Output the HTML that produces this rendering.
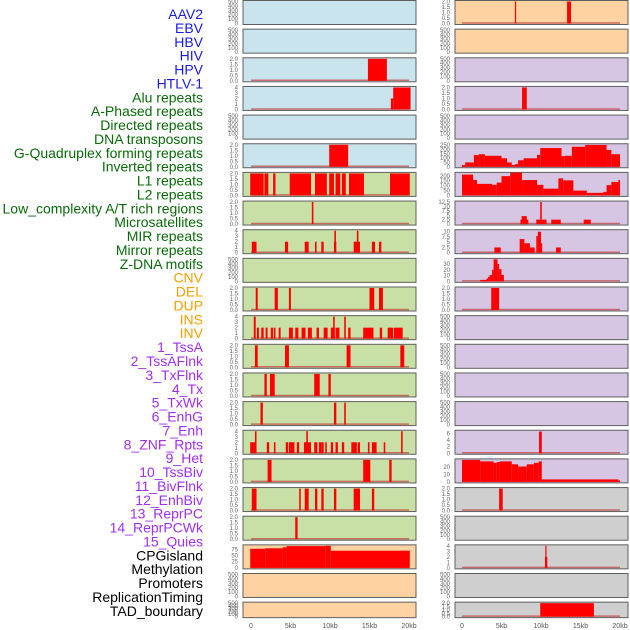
<!DOCTYPE html>
<html><head><meta charset="utf-8"><style>
html,body{margin:0;padding:0;background:#fff;}
svg{display:block;font-family:"Liberation Sans",sans-serif;}
</style></head><body>
<svg id="chart" width="630" height="630" viewBox="0 0 630 630"></svg>
<script>
// ---------- data (kb start, kb end, value) ----------
const trackLabels = ["AAV2","EBV","HBV","HIV","HPV","HTLV-1","Alu repeats","A-Phased repeats","Directed repeats","DNA transposons","G-Quadruplex forming repeats","Inverted repeats","L1 repeats","L2 repeats","Low_complexity A/T rich regions","Microsatellites","MIR repeats","Mirror repeats","Z-DNA motifs","CNV","DEL","DUP","INS","INV","1_TssA","2_TssAFlnk","3_TxFlnk","4_Tx","5_TxWk","6_EnhG","7_Enh","8_ZNF_Rpts","9_Het","10_TssBiv","11_BivFlnk","12_EnhBiv","13_ReprPC","14_ReprPCWk","15_Quies","CPGisland","Methylation","Promoters","ReplicationTiming","TAD_boundary"];
const xTickValues = [0,5,10,15,20];
const xTickLabels = ["0","5kb","10kb","15kb","20kb"];
const ticksEmpty = [0,100,200,300,400,500];
const ticks2 = [0,0.5,1,1.5,2];
const ticks4 = [0,1,2,3,4];

const L2 = [[14.8,17.2,2]];
const L3 = [[17.7,18,2],[18,20.2,4]];
const L5 = [[9.9,12.3,2]];
const L6 = [[-0.1,1.6,2],[1.7,2.2,2],[2.8,3.1,2],[4.9,7.6,2],[8.1,9.6,2],[9.9,10.5,2],[10.7,11.3,2],[11.5,12,2],[12.4,14.3,2],[17.6,20.1,2]];
const L7 = [[7.7,7.9,2]];
const L8 = [[0.1,0.7,2],[4.3,4.7,2],[6.8,7.3,2],[8.1,8.3,2],[8.9,9.2,2],[10.5,10.8,2],[10.55,10.75,4],[13,13.8,2],[13.4,13.6,4],[15.3,15.7,2],[16.2,16.5,2]];
const L10 = [[0.6,0.85,2],[3,3.4,2],[4.8,5.05,2],[15,15.6,2],[16.2,16.7,2]];
const L11 = [[0.35,0.6,4],[0.75,1,2],[1.3,1.6,2],[1.85,2.1,2],[2.5,2.8,2],[2.9,3.1,2],[3.5,3.75,2],[4.8,5.3,2],[5.6,6,2],[6.4,6.9,2],[7.2,7.7,2],[8.3,8.6,2],[9.2,9.7,2],[10.1,10.6,2],[10.4,10.6,4],[10.7,11.2,2],[11.8,12,4],[12.3,12.6,2],[14.2,15.5,2],[16.3,16.6,2],[17.3,17.7,2],[17.6,18,2],[18.1,19.2,2]];
const L12 = [[0.5,0.85,2],[4.3,4.8,2],[12.1,12.6,2],[18.9,19.4,2]];
const L13 = [[1.7,2,2],[2.4,3,2],[8,8.7,2],[9.8,10.1,2]];
const L14 = [[1.2,1.5,2],[10.5,10.8,2],[11.8,12,2]];
const L15 = [[-0.1,0.6,2],[0.5,0.7,4],[2,2.3,2],[2.9,3.1,2],[4.4,4.7,2],[4.8,5.5,2],[5.8,6.1,2],[6.7,7.6,2],[7,7.2,4],[8,8.4,2],[8.6,8.9,2],[8.9,9.2,2],[9.4,9.6,2],[10.1,10.4,2],[10.7,11,2],[11.5,11.8,2],[12.7,13.4,2],[13.5,13.8,2],[14.8,15,2],[15.3,15.9,2],[16.8,17,2],[19,19.2,4]];
const L16 = [[2.1,2.6,2],[14.2,15.1,2],[17.5,17.8,2]];
const L17 = [[0.1,0.7,2],[6.1,6.3,2],[6.8,7.3,2],[8.1,8.4,2],[8.9,9.2,2],[10.5,10.8,2],[13,13.8,2],[15.3,15.6,2]];
const L18 = [[5.6,5.9,2]];
const L19 = [[-0.1,1.8,78],[1.8,4,80],[4,4.5,84],[4.5,9.4,89],[9.4,10.1,90],[10.1,20.1,70]];
const R0 = [[6.7,6.85,2],[13.3,13.8,2]];
const R3 = [[7.6,8.2,2]];
const R5 = [[0,0.4,20],[0.4,1.5,50],[1.5,2.1,135],[2.1,2.9,145],[2.9,5,127],[5,5.7,98],[5.7,6.3,50],[6.3,6.7,20],[6.7,7.1,30],[7.1,7.8,75],[7.8,9.5,98],[9.5,9.9,138],[9.9,12.6,217],[12.6,13,123],[13,13.9,127],[13.9,15.6,232],[15.6,18.3,253],[18.3,18.9,195],[18.9,20,145]];
const R6 = [[0,1.4,213],[1.4,1.9,157],[1.9,3.8,118],[3.8,4.4,108],[4.4,5,131],[5,6.1,197],[6.1,7.6,233],[7.6,9.5,157],[9.5,10.3,108],[10.3,12.2,69],[12.2,12.8,174],[12.8,14.1,154],[14.1,15.8,49],[15.8,17.9,26],[17.9,18.3,36],[18.3,18.9,105],[18.9,19.8,138],[19.8,20,157]];
const R7 = [[7.4,8.4,2.5],[7.55,8.2,4.5],[9.4,10.7,2.5],[9.9,10.1,12.5],[11.3,12.5,2.5],[15.4,16.3,2.5]];
const R8 = [[4.1,4.9,2.5],[7.3,7.9,6.5],[7.9,8.6,4.5],[8.6,9.2,2.5],[9.4,9.6,8],[9.6,10,10],[10,10.1,4.5],[11.9,12.5,2.5]];
const R9 = [[2.3,3.1,2.5],[3.1,3.3,5],[3.3,3.5,8],[3.5,3.8,11],[3.8,4,20],[4,4.5,38],[4.5,4.7,30],[4.7,5,21],[5,5.3,11]];
const R10 = [[3.7,4.7,2]];
const R15 = [[9.75,10.1,6.5]];
const R16 = [[0,2.3,30],[2.3,4,28],[4,4.4,26],[4.4,4.8,27],[4.8,6.3,28],[6.3,7.1,24],[7.1,8.2,21],[8.2,9.1,24],[9.1,9.7,26],[9.7,10.1,28],[10.1,19.8,3.4],[19.8,20,2]];
const R17 = [[4.7,5.15,2]];
const R19 = [[10.5,10.8,2],[10.55,10.7,4]];
const R21 = [[9.9,16.7,2]];

// ---------- layout ----------
const bgColors = {blue:"#c9e4ec",green:"#c8e0a5",orange:"#ffd2a1",purple:"#d7c6e3",grey:"#cfcfcf"};
const panels = [
 [0,0,"blue",null,ticksEmpty,500],[0,1,"blue",null,ticksEmpty,500],[0,2,"blue",L2,ticks2,2],[0,3,"blue",L3,ticks4,4],
 [0,4,"blue",null,ticksEmpty,500],[0,5,"blue",L5,ticks2,2],[0,6,"green",L6,ticks2,2],[0,7,"green",L7,ticks2,2],
 [0,8,"green",L8,ticks4,4],[0,9,"green",null,ticksEmpty,500],[0,10,"green",L10,ticks2,2],[0,11,"green",L11,ticks4,4],
 [0,12,"green",L12,ticks2,2],[0,13,"green",L13,ticks2,2],[0,14,"green",L14,ticks2,2],[0,15,"green",L15,ticks4,4],
 [0,16,"green",L16,ticks2,2],[0,17,"green",L17,ticks2,2],[0,18,"green",L18,ticks2,2],[0,19,"orange",L19,[0,25,50,75],90],
 [0,20,"orange",null,ticksEmpty,500],[0,21,"orange",null,ticksEmpty,500],
 [1,0,"orange",R0,ticks2,2],[1,1,"orange",null,ticksEmpty,500],[1,2,"purple",null,ticksEmpty,500],[1,3,"purple",R3,ticks2,2],
 [1,4,"purple",null,ticksEmpty,500],[1,5,"purple",R5,[0,50,100,150,200,250],255],[1,6,"purple",R6,[0,50,100,150,200],225],
 [1,7,"purple",R7,[0,2.5,5,7.5,10,12.5],12.5],[1,8,"purple",R8,[0,2.5,5,7.5,10],10.5],[1,9,"purple",R9,[0,10,20,30],38],
 [1,10,"purple",R10,ticks2,2],[1,11,"purple",null,ticksEmpty,500],[1,12,"purple",null,ticksEmpty,500],[1,13,"purple",null,ticksEmpty,500],
 [1,14,"purple",null,ticksEmpty,500],[1,15,"purple",R15,[0,2,4,6],6.6],[1,16,"purple",R16,[0,10,20],30],
 [1,17,"grey",R17,ticks2,2],[1,18,"grey",null,ticksEmpty,500],[1,19,"grey",R19,ticks4,4],[1,20,"grey",null,ticksEmpty,500],
 [1,21,"grey",R21,ticks2,2]
];
const NS="http://www.w3.org/2000/svg";
const svg=document.getElementById('chart');
function mk(tag,attrs,parent){const e=document.createElementNS(NS,tag);for(const k in attrs)e.setAttribute(k,attrs[k]);(parent||svg).appendChild(e);return e;}
function labelColor(i){if(i<6)return "#1a1ae6";if(i<19)return "#0a6a0a";if(i<24)return "#f5a000";if(i<39)return "#a02ff0";return "#000";}
trackLabels.forEach((t,i)=>{
 const e=mk('text',{x:203,y:14+i*13.88+5,'text-anchor':'end','font-size':14,fill:labelColor(i)});
 e.textContent=t;
 
 
});
const colX=[243,455], zeroX=[251,462], pxPerKb=7.9;
function xs(c,kb){return zeroX[c]+kb*pxPerKb;}
panels.forEach((p,idx)=>{
 const [c,r,bg,data,ticks,max]=p;
 const top=0.5+r*28.65, h=(r===21?15.5:24), w=173;
 const g=mk('g',{});
 
 
 const rect=mk('rect',{x:colX[c],y:top,width:w,height:h,fill:bgColors[bg],stroke:"#5f5f5f",'stroke-width':1},g);
 
 
 const ys=v=>top+h-1-(v/max)*(h-2);
 ticks.forEach(t=>{
  const tx=mk('text',{x:colX[c]-5,y:ys(t)+2,'text-anchor':'end','font-size':6,fill:"#666"},g);
  tx.textContent=(ticks===ticks2)?t.toFixed(1):String(t);
  
  
 });
 if(data){
  const base=mk('line',{x1:xs(c,0),x2:xs(c,20),y1:top+h-1.5,y2:top+h-1.5,stroke:"#c04040",'stroke-width':1.5,opacity:0.7},g);
  
  
  data.forEach(d=>{
   const x1=xs(c,d[0]),x2=xs(c,d[1]),y=ys(d[2]);
   const b=mk('rect',{x:x1,y:y,width:Math.max(1.2,x2-x1),height:top+h-1-y,fill:"#ff0000"},g);
   
   
  });
 }
});
[0,1].forEach(c=>{
 xTickValues.forEach((v,i)=>{
  const t=mk('text',{x:xs(c,v),y:628,'text-anchor':'middle','font-size':7,fill:"#555"});
  t.textContent=xTickLabels[i];
  
  
 });
});
</script>
</body></html>
